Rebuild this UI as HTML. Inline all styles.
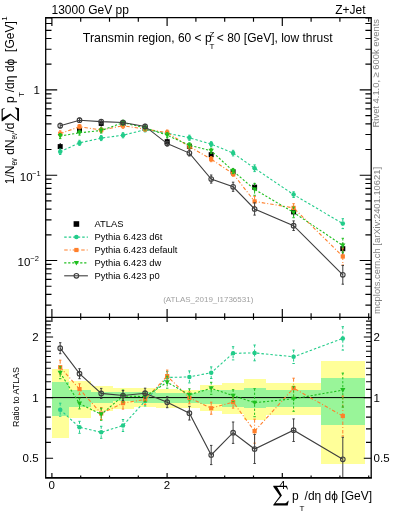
<!DOCTYPE html><html><head><meta charset="utf-8"><style>html,body{margin:0;padding:0;background:#fff;width:393px;height:512px;overflow:hidden}svg{display:block;will-change:transform}text{font-family:"Liberation Sans",sans-serif}</style></head><body><svg width="393" height="512" viewBox="0 0 393 512"><g shape-rendering="crispEdges"><rect x="51.5" y="369.2" width="17.5" height="69.1" fill="#ffff99"/><rect x="69.0" y="381.4" width="21.8" height="37.0" fill="#ffff99"/><rect x="90.8" y="385.9" width="21.7" height="25.4" fill="#ffff99"/><rect x="112.5" y="388.0" width="21.5" height="20.8" fill="#ffff99"/><rect x="134.0" y="387.7" width="22.0" height="19.7" fill="#ffff99"/><rect x="156.0" y="389.0" width="22.0" height="18.5" fill="#ffff99"/><rect x="178.0" y="389.5" width="22.2" height="18.0" fill="#ffff99"/><rect x="200.2" y="385.2" width="21.9" height="25.3" fill="#ffff99"/><rect x="222.1" y="383.2" width="21.8" height="31.1" fill="#ffff99"/><rect x="243.9" y="378.8" width="21.7" height="41.6" fill="#ffff99"/><rect x="265.6" y="383.1" width="55.4" height="31.5" fill="#ffff99"/><rect x="321.0" y="360.7" width="44.0" height="103.1" fill="#ffff99"/><rect x="51.5" y="382.3" width="17.5" height="33.2" fill="#99f599"/><rect x="69.0" y="389.6" width="21.8" height="17.6" fill="#99f599"/><rect x="90.8" y="391.6" width="21.7" height="11.1" fill="#99f599"/><rect x="112.5" y="392.4" width="21.5" height="8.7" fill="#99f599"/><rect x="134.0" y="391.7" width="22.0" height="11.6" fill="#99f599"/><rect x="156.0" y="393.0" width="22.0" height="10.2" fill="#99f599"/><rect x="178.0" y="393.0" width="22.2" height="10.2" fill="#99f599"/><rect x="200.2" y="389.6" width="21.9" height="14.6" fill="#99f599"/><rect x="222.1" y="389.6" width="21.8" height="17.6" fill="#99f599"/><rect x="243.9" y="388.0" width="21.7" height="20.2" fill="#99f599"/><rect x="265.6" y="389.6" width="55.4" height="17.4" fill="#99f599"/><rect x="321.0" y="377.5" width="44.0" height="47.1" fill="#99f599"/></g><line x1="45.7" y1="397.6" x2="371.2" y2="397.6" stroke="#000" stroke-width="1"/><defs><clipPath id="cm"><rect x="45.7" y="17.55" width="325.5" height="299.84999999999997"/></clipPath><clipPath id="cr"><rect x="45.7" y="317.4" width="325.5" height="160.40000000000003"/></clipPath></defs><line x1="60.2" y1="143.1" x2="60.2" y2="150.1" stroke="#000" stroke-width="1"/><rect x="57.7" y="144.1" width="5" height="5" fill="#000"/><line x1="79.5" y1="127.1" x2="79.5" y2="133.5" stroke="#000" stroke-width="1"/><rect x="77.0" y="127.8" width="5" height="5" fill="#000"/><line x1="101.2" y1="120.2" x2="101.2" y2="126.6" stroke="#000" stroke-width="1"/><rect x="98.7" y="120.9" width="5" height="5" fill="#000"/><line x1="123.0" y1="120.2" x2="123.0" y2="126.6" stroke="#000" stroke-width="1"/><rect x="120.5" y="120.9" width="5" height="5" fill="#000"/><line x1="145.1" y1="125.1" x2="145.1" y2="131.5" stroke="#000" stroke-width="1"/><rect x="142.6" y="125.8" width="5" height="5" fill="#000"/><line x1="167.2" y1="138.4" x2="167.2" y2="145.0" stroke="#000" stroke-width="1"/><rect x="164.7" y="139.2" width="5" height="5" fill="#000"/><line x1="189.4" y1="143.0" x2="189.4" y2="150.0" stroke="#000" stroke-width="1"/><rect x="186.9" y="144.0" width="5" height="5" fill="#000"/><line x1="211.2" y1="150.9" x2="211.2" y2="158.5" stroke="#000" stroke-width="1"/><rect x="208.7" y="152.2" width="5" height="5" fill="#000"/><line x1="233.1" y1="167.9" x2="233.1" y2="175.9" stroke="#000" stroke-width="1"/><rect x="230.6" y="169.4" width="5" height="5" fill="#000"/><line x1="254.6" y1="182.9" x2="254.6" y2="191.5" stroke="#000" stroke-width="1"/><rect x="252.1" y="184.7" width="5" height="5" fill="#000"/><line x1="293.6" y1="207.4" x2="293.6" y2="216.4" stroke="#000" stroke-width="1"/><rect x="291.1" y="209.4" width="5" height="5" fill="#000"/><line x1="342.8" y1="242.7" x2="342.8" y2="254.7" stroke="#000" stroke-width="1"/><rect x="340.3" y="246.2" width="5" height="5" fill="#000"/><g clip-path="url(#cr)"><polyline points="60.2,409.7 79.5,427.3 101.2,432.3 123.0,425.5 145.1,401.0 167.2,377.5 189.4,376.9 211.2,372.7 233.1,353.3 254.6,352.9 293.6,356.8 342.8,338.4" fill="none" stroke="#22cc8a" stroke-width="1.1" stroke-dasharray="2.5,2"/><line x1="60.2" y1="403.2" x2="60.2" y2="416.2" stroke="#22cc8a" stroke-width="1" stroke-dasharray="2.5,2"/><line x1="59.0" y1="403.2" x2="61.4" y2="403.2" stroke="#22cc8a" stroke-width="1"/><line x1="59.0" y1="416.2" x2="61.4" y2="416.2" stroke="#22cc8a" stroke-width="1"/><line x1="79.5" y1="421.3" x2="79.5" y2="433.3" stroke="#22cc8a" stroke-width="1" stroke-dasharray="2.5,2"/><line x1="78.3" y1="421.3" x2="80.7" y2="421.3" stroke="#22cc8a" stroke-width="1"/><line x1="78.3" y1="433.3" x2="80.7" y2="433.3" stroke="#22cc8a" stroke-width="1"/><line x1="101.2" y1="426.3" x2="101.2" y2="438.3" stroke="#22cc8a" stroke-width="1" stroke-dasharray="2.5,2"/><line x1="100.0" y1="426.3" x2="102.4" y2="426.3" stroke="#22cc8a" stroke-width="1"/><line x1="100.0" y1="438.3" x2="102.4" y2="438.3" stroke="#22cc8a" stroke-width="1"/><line x1="123.0" y1="419.5" x2="123.0" y2="431.5" stroke="#22cc8a" stroke-width="1" stroke-dasharray="2.5,2"/><line x1="121.8" y1="419.5" x2="124.2" y2="419.5" stroke="#22cc8a" stroke-width="1"/><line x1="121.8" y1="431.5" x2="124.2" y2="431.5" stroke="#22cc8a" stroke-width="1"/><line x1="145.1" y1="396.0" x2="145.1" y2="406.0" stroke="#22cc8a" stroke-width="1" stroke-dasharray="2.5,2"/><line x1="143.9" y1="396.0" x2="146.3" y2="396.0" stroke="#22cc8a" stroke-width="1"/><line x1="143.9" y1="406.0" x2="146.3" y2="406.0" stroke="#22cc8a" stroke-width="1"/><line x1="167.2" y1="371.5" x2="167.2" y2="383.5" stroke="#22cc8a" stroke-width="1" stroke-dasharray="2.5,2"/><line x1="166.0" y1="371.5" x2="168.4" y2="371.5" stroke="#22cc8a" stroke-width="1"/><line x1="166.0" y1="383.5" x2="168.4" y2="383.5" stroke="#22cc8a" stroke-width="1"/><line x1="189.4" y1="370.9" x2="189.4" y2="382.9" stroke="#22cc8a" stroke-width="1" stroke-dasharray="2.5,2"/><line x1="188.2" y1="370.9" x2="190.6" y2="370.9" stroke="#22cc8a" stroke-width="1"/><line x1="188.2" y1="382.9" x2="190.6" y2="382.9" stroke="#22cc8a" stroke-width="1"/><line x1="211.2" y1="366.9" x2="211.2" y2="378.5" stroke="#22cc8a" stroke-width="1" stroke-dasharray="2.5,2"/><line x1="210.0" y1="366.9" x2="212.4" y2="366.9" stroke="#22cc8a" stroke-width="1"/><line x1="210.0" y1="378.5" x2="212.4" y2="378.5" stroke="#22cc8a" stroke-width="1"/><line x1="233.1" y1="346.7" x2="233.1" y2="359.9" stroke="#22cc8a" stroke-width="1" stroke-dasharray="2.5,2"/><line x1="231.9" y1="346.7" x2="234.3" y2="346.7" stroke="#22cc8a" stroke-width="1"/><line x1="231.9" y1="359.9" x2="234.3" y2="359.9" stroke="#22cc8a" stroke-width="1"/><line x1="254.6" y1="345.0" x2="254.6" y2="360.8" stroke="#22cc8a" stroke-width="1" stroke-dasharray="2.5,2"/><line x1="253.4" y1="345.0" x2="255.8" y2="345.0" stroke="#22cc8a" stroke-width="1"/><line x1="253.4" y1="360.8" x2="255.8" y2="360.8" stroke="#22cc8a" stroke-width="1"/><line x1="293.6" y1="350.1" x2="293.6" y2="363.5" stroke="#22cc8a" stroke-width="1" stroke-dasharray="2.5,2"/><line x1="292.4" y1="350.1" x2="294.8" y2="350.1" stroke="#22cc8a" stroke-width="1"/><line x1="292.4" y1="363.5" x2="294.8" y2="363.5" stroke="#22cc8a" stroke-width="1"/><line x1="342.8" y1="326.7" x2="342.8" y2="350.1" stroke="#22cc8a" stroke-width="1" stroke-dasharray="2.5,2"/><line x1="341.6" y1="326.7" x2="344.0" y2="326.7" stroke="#22cc8a" stroke-width="1"/><line x1="341.6" y1="350.1" x2="344.0" y2="350.1" stroke="#22cc8a" stroke-width="1"/><circle cx="60.2" cy="409.7" r="2.25" fill="#22cc8a"/><circle cx="79.5" cy="427.3" r="2.25" fill="#22cc8a"/><circle cx="101.2" cy="432.3" r="2.25" fill="#22cc8a"/><circle cx="123.0" cy="425.5" r="2.25" fill="#22cc8a"/><circle cx="145.1" cy="401.0" r="2.25" fill="#22cc8a"/><circle cx="167.2" cy="377.5" r="2.25" fill="#22cc8a"/><circle cx="189.4" cy="376.9" r="2.25" fill="#22cc8a"/><circle cx="211.2" cy="372.7" r="2.25" fill="#22cc8a"/><circle cx="233.1" cy="353.3" r="2.25" fill="#22cc8a"/><circle cx="254.6" cy="352.9" r="2.25" fill="#22cc8a"/><circle cx="293.6" cy="356.8" r="2.25" fill="#22cc8a"/><circle cx="342.8" cy="338.4" r="2.25" fill="#22cc8a"/></g><g clip-path="url(#cr)"><polyline points="60.2,367.2 79.5,389.1 101.2,413.5 123.0,403.1 145.1,399.5 167.2,376.1 189.4,397.8 211.2,408.2 233.1,402.1 254.6,431.2 293.6,388.2 342.8,416.0" fill="none" stroke="#ff7f2a" stroke-width="1.1" stroke-dasharray="3.5,2,1,2"/><line x1="60.2" y1="360.2" x2="60.2" y2="374.2" stroke="#ff7f2a" stroke-width="1" stroke-dasharray="3.5,2,1,2"/><line x1="59.0" y1="360.2" x2="61.4" y2="360.2" stroke="#ff7f2a" stroke-width="1"/><line x1="59.0" y1="374.2" x2="61.4" y2="374.2" stroke="#ff7f2a" stroke-width="1"/><line x1="79.5" y1="383.8" x2="79.5" y2="394.4" stroke="#ff7f2a" stroke-width="1" stroke-dasharray="3.5,2,1,2"/><line x1="78.3" y1="383.8" x2="80.7" y2="383.8" stroke="#ff7f2a" stroke-width="1"/><line x1="78.3" y1="394.4" x2="80.7" y2="394.4" stroke="#ff7f2a" stroke-width="1"/><line x1="101.2" y1="407.5" x2="101.2" y2="419.5" stroke="#ff7f2a" stroke-width="1" stroke-dasharray="3.5,2,1,2"/><line x1="100.0" y1="407.5" x2="102.4" y2="407.5" stroke="#ff7f2a" stroke-width="1"/><line x1="100.0" y1="419.5" x2="102.4" y2="419.5" stroke="#ff7f2a" stroke-width="1"/><line x1="123.0" y1="397.1" x2="123.0" y2="409.1" stroke="#ff7f2a" stroke-width="1" stroke-dasharray="3.5,2,1,2"/><line x1="121.8" y1="397.1" x2="124.2" y2="397.1" stroke="#ff7f2a" stroke-width="1"/><line x1="121.8" y1="409.1" x2="124.2" y2="409.1" stroke="#ff7f2a" stroke-width="1"/><line x1="145.1" y1="394.5" x2="145.1" y2="404.5" stroke="#ff7f2a" stroke-width="1" stroke-dasharray="3.5,2,1,2"/><line x1="143.9" y1="394.5" x2="146.3" y2="394.5" stroke="#ff7f2a" stroke-width="1"/><line x1="143.9" y1="404.5" x2="146.3" y2="404.5" stroke="#ff7f2a" stroke-width="1"/><line x1="167.2" y1="370.1" x2="167.2" y2="382.1" stroke="#ff7f2a" stroke-width="1" stroke-dasharray="3.5,2,1,2"/><line x1="166.0" y1="370.1" x2="168.4" y2="370.1" stroke="#ff7f2a" stroke-width="1"/><line x1="166.0" y1="382.1" x2="168.4" y2="382.1" stroke="#ff7f2a" stroke-width="1"/><line x1="189.4" y1="391.8" x2="189.4" y2="403.8" stroke="#ff7f2a" stroke-width="1" stroke-dasharray="3.5,2,1,2"/><line x1="188.2" y1="391.8" x2="190.6" y2="391.8" stroke="#ff7f2a" stroke-width="1"/><line x1="188.2" y1="403.8" x2="190.6" y2="403.8" stroke="#ff7f2a" stroke-width="1"/><line x1="211.2" y1="402.2" x2="211.2" y2="414.2" stroke="#ff7f2a" stroke-width="1" stroke-dasharray="3.5,2,1,2"/><line x1="210.0" y1="402.2" x2="212.4" y2="402.2" stroke="#ff7f2a" stroke-width="1"/><line x1="210.0" y1="414.2" x2="212.4" y2="414.2" stroke="#ff7f2a" stroke-width="1"/><line x1="233.1" y1="396.1" x2="233.1" y2="408.1" stroke="#ff7f2a" stroke-width="1" stroke-dasharray="3.5,2,1,2"/><line x1="231.9" y1="396.1" x2="234.3" y2="396.1" stroke="#ff7f2a" stroke-width="1"/><line x1="231.9" y1="408.1" x2="234.3" y2="408.1" stroke="#ff7f2a" stroke-width="1"/><line x1="254.6" y1="419.2" x2="254.6" y2="443.2" stroke="#ff7f2a" stroke-width="1" stroke-dasharray="3.5,2,1,2"/><line x1="253.4" y1="419.2" x2="255.8" y2="419.2" stroke="#ff7f2a" stroke-width="1"/><line x1="253.4" y1="443.2" x2="255.8" y2="443.2" stroke="#ff7f2a" stroke-width="1"/><line x1="293.6" y1="378.2" x2="293.6" y2="398.2" stroke="#ff7f2a" stroke-width="1" stroke-dasharray="3.5,2,1,2"/><line x1="292.4" y1="378.2" x2="294.8" y2="378.2" stroke="#ff7f2a" stroke-width="1"/><line x1="292.4" y1="398.2" x2="294.8" y2="398.2" stroke="#ff7f2a" stroke-width="1"/><line x1="342.8" y1="396.0" x2="342.8" y2="436.0" stroke="#ff7f2a" stroke-width="1" stroke-dasharray="3.5,2,1,2"/><line x1="341.6" y1="396.0" x2="344.0" y2="396.0" stroke="#ff7f2a" stroke-width="1"/><line x1="341.6" y1="436.0" x2="344.0" y2="436.0" stroke="#ff7f2a" stroke-width="1"/><rect x="58.1" y="365.1" width="4.2" height="4.2" fill="#ff7f2a"/><rect x="77.4" y="387.0" width="4.2" height="4.2" fill="#ff7f2a"/><rect x="99.1" y="411.4" width="4.2" height="4.2" fill="#ff7f2a"/><rect x="120.9" y="401.0" width="4.2" height="4.2" fill="#ff7f2a"/><rect x="143.0" y="397.4" width="4.2" height="4.2" fill="#ff7f2a"/><rect x="165.1" y="374.0" width="4.2" height="4.2" fill="#ff7f2a"/><rect x="187.3" y="395.7" width="4.2" height="4.2" fill="#ff7f2a"/><rect x="209.1" y="406.1" width="4.2" height="4.2" fill="#ff7f2a"/><rect x="231.0" y="400.0" width="4.2" height="4.2" fill="#ff7f2a"/><rect x="252.5" y="429.1" width="4.2" height="4.2" fill="#ff7f2a"/><rect x="291.5" y="386.1" width="4.2" height="4.2" fill="#ff7f2a"/><rect x="340.7" y="413.9" width="4.2" height="4.2" fill="#ff7f2a"/></g><g clip-path="url(#cr)"><polyline points="60.2,372.7 79.5,403.6 101.2,414.3 123.0,396.0 145.1,396.6 167.2,382.2 189.4,394.8 211.2,388.3 233.1,395.7 254.6,402.7 293.6,398.8 342.8,390.1" fill="none" stroke="#1fbf1f" stroke-width="1.1" stroke-dasharray="2.2,1.8"/><line x1="60.2" y1="366.7" x2="60.2" y2="378.7" stroke="#1fbf1f" stroke-width="1" stroke-dasharray="2.2,1.8"/><line x1="59.0" y1="366.7" x2="61.4" y2="366.7" stroke="#1fbf1f" stroke-width="1"/><line x1="59.0" y1="378.7" x2="61.4" y2="378.7" stroke="#1fbf1f" stroke-width="1"/><line x1="79.5" y1="398.3" x2="79.5" y2="408.9" stroke="#1fbf1f" stroke-width="1" stroke-dasharray="2.2,1.8"/><line x1="78.3" y1="398.3" x2="80.7" y2="398.3" stroke="#1fbf1f" stroke-width="1"/><line x1="78.3" y1="408.9" x2="80.7" y2="408.9" stroke="#1fbf1f" stroke-width="1"/><line x1="101.2" y1="408.3" x2="101.2" y2="420.3" stroke="#1fbf1f" stroke-width="1" stroke-dasharray="2.2,1.8"/><line x1="100.0" y1="408.3" x2="102.4" y2="408.3" stroke="#1fbf1f" stroke-width="1"/><line x1="100.0" y1="420.3" x2="102.4" y2="420.3" stroke="#1fbf1f" stroke-width="1"/><line x1="123.0" y1="390.0" x2="123.0" y2="402.0" stroke="#1fbf1f" stroke-width="1" stroke-dasharray="2.2,1.8"/><line x1="121.8" y1="390.0" x2="124.2" y2="390.0" stroke="#1fbf1f" stroke-width="1"/><line x1="121.8" y1="402.0" x2="124.2" y2="402.0" stroke="#1fbf1f" stroke-width="1"/><line x1="145.1" y1="391.6" x2="145.1" y2="401.6" stroke="#1fbf1f" stroke-width="1" stroke-dasharray="2.2,1.8"/><line x1="143.9" y1="391.6" x2="146.3" y2="391.6" stroke="#1fbf1f" stroke-width="1"/><line x1="143.9" y1="401.6" x2="146.3" y2="401.6" stroke="#1fbf1f" stroke-width="1"/><line x1="167.2" y1="376.2" x2="167.2" y2="388.2" stroke="#1fbf1f" stroke-width="1" stroke-dasharray="2.2,1.8"/><line x1="166.0" y1="376.2" x2="168.4" y2="376.2" stroke="#1fbf1f" stroke-width="1"/><line x1="166.0" y1="388.2" x2="168.4" y2="388.2" stroke="#1fbf1f" stroke-width="1"/><line x1="189.4" y1="388.8" x2="189.4" y2="400.8" stroke="#1fbf1f" stroke-width="1" stroke-dasharray="2.2,1.8"/><line x1="188.2" y1="388.8" x2="190.6" y2="388.8" stroke="#1fbf1f" stroke-width="1"/><line x1="188.2" y1="400.8" x2="190.6" y2="400.8" stroke="#1fbf1f" stroke-width="1"/><line x1="211.2" y1="382.3" x2="211.2" y2="394.3" stroke="#1fbf1f" stroke-width="1" stroke-dasharray="2.2,1.8"/><line x1="210.0" y1="382.3" x2="212.4" y2="382.3" stroke="#1fbf1f" stroke-width="1"/><line x1="210.0" y1="394.3" x2="212.4" y2="394.3" stroke="#1fbf1f" stroke-width="1"/><line x1="233.1" y1="389.7" x2="233.1" y2="401.7" stroke="#1fbf1f" stroke-width="1" stroke-dasharray="2.2,1.8"/><line x1="231.9" y1="389.7" x2="234.3" y2="389.7" stroke="#1fbf1f" stroke-width="1"/><line x1="231.9" y1="401.7" x2="234.3" y2="401.7" stroke="#1fbf1f" stroke-width="1"/><line x1="254.6" y1="388.7" x2="254.6" y2="416.7" stroke="#1fbf1f" stroke-width="1" stroke-dasharray="2.2,1.8"/><line x1="253.4" y1="388.7" x2="255.8" y2="388.7" stroke="#1fbf1f" stroke-width="1"/><line x1="253.4" y1="416.7" x2="255.8" y2="416.7" stroke="#1fbf1f" stroke-width="1"/><line x1="293.6" y1="386.3" x2="293.6" y2="411.3" stroke="#1fbf1f" stroke-width="1" stroke-dasharray="2.2,1.8"/><line x1="292.4" y1="386.3" x2="294.8" y2="386.3" stroke="#1fbf1f" stroke-width="1"/><line x1="292.4" y1="411.3" x2="294.8" y2="411.3" stroke="#1fbf1f" stroke-width="1"/><line x1="342.8" y1="373.1" x2="342.8" y2="407.1" stroke="#1fbf1f" stroke-width="1" stroke-dasharray="2.2,1.8"/><line x1="341.6" y1="373.1" x2="344.0" y2="373.1" stroke="#1fbf1f" stroke-width="1"/><line x1="341.6" y1="407.1" x2="344.0" y2="407.1" stroke="#1fbf1f" stroke-width="1"/><path d="M57.6,370.7L62.8,370.7L60.2,375.3Z" fill="#1fbf1f"/><path d="M76.9,401.6L82.1,401.6L79.5,406.2Z" fill="#1fbf1f"/><path d="M98.6,412.3L103.8,412.3L101.2,416.9Z" fill="#1fbf1f"/><path d="M120.4,394.0L125.6,394.0L123.0,398.6Z" fill="#1fbf1f"/><path d="M142.5,394.6L147.7,394.6L145.1,399.2Z" fill="#1fbf1f"/><path d="M164.6,380.2L169.8,380.2L167.2,384.8Z" fill="#1fbf1f"/><path d="M186.8,392.8L192.0,392.8L189.4,397.4Z" fill="#1fbf1f"/><path d="M208.6,386.3L213.8,386.3L211.2,390.9Z" fill="#1fbf1f"/><path d="M230.5,393.7L235.7,393.7L233.1,398.3Z" fill="#1fbf1f"/><path d="M252.0,400.7L257.2,400.7L254.6,405.3Z" fill="#1fbf1f"/><path d="M291.0,396.8L296.2,396.8L293.6,401.4Z" fill="#1fbf1f"/><path d="M340.2,388.1L345.4,388.1L342.8,392.7Z" fill="#1fbf1f"/></g><g clip-path="url(#cr)"><polyline points="60.2,348.2 79.5,373.7 101.2,393.4 123.0,395.5 145.1,393.2 167.2,402.2 189.4,413.2 211.2,455.0 233.1,432.7 254.6,449.0 293.6,430.2 342.8,459.3" fill="none" stroke="#3f3f3f" stroke-width="1.1"/><line x1="60.2" y1="342.7" x2="60.2" y2="353.7" stroke="#3f3f3f" stroke-width="1"/><line x1="59.0" y1="342.7" x2="61.4" y2="342.7" stroke="#3f3f3f" stroke-width="1"/><line x1="59.0" y1="353.7" x2="61.4" y2="353.7" stroke="#3f3f3f" stroke-width="1"/><line x1="79.5" y1="368.7" x2="79.5" y2="378.7" stroke="#3f3f3f" stroke-width="1"/><line x1="78.3" y1="368.7" x2="80.7" y2="368.7" stroke="#3f3f3f" stroke-width="1"/><line x1="78.3" y1="378.7" x2="80.7" y2="378.7" stroke="#3f3f3f" stroke-width="1"/><line x1="101.2" y1="388.4" x2="101.2" y2="398.4" stroke="#3f3f3f" stroke-width="1"/><line x1="100.0" y1="388.4" x2="102.4" y2="388.4" stroke="#3f3f3f" stroke-width="1"/><line x1="100.0" y1="398.4" x2="102.4" y2="398.4" stroke="#3f3f3f" stroke-width="1"/><line x1="123.0" y1="390.5" x2="123.0" y2="400.5" stroke="#3f3f3f" stroke-width="1"/><line x1="121.8" y1="390.5" x2="124.2" y2="390.5" stroke="#3f3f3f" stroke-width="1"/><line x1="121.8" y1="400.5" x2="124.2" y2="400.5" stroke="#3f3f3f" stroke-width="1"/><line x1="145.1" y1="388.2" x2="145.1" y2="398.2" stroke="#3f3f3f" stroke-width="1"/><line x1="143.9" y1="388.2" x2="146.3" y2="388.2" stroke="#3f3f3f" stroke-width="1"/><line x1="143.9" y1="398.2" x2="146.3" y2="398.2" stroke="#3f3f3f" stroke-width="1"/><line x1="167.2" y1="396.7" x2="167.2" y2="407.7" stroke="#3f3f3f" stroke-width="1"/><line x1="166.0" y1="396.7" x2="168.4" y2="396.7" stroke="#3f3f3f" stroke-width="1"/><line x1="166.0" y1="407.7" x2="168.4" y2="407.7" stroke="#3f3f3f" stroke-width="1"/><line x1="189.4" y1="406.4" x2="189.4" y2="420.0" stroke="#3f3f3f" stroke-width="1"/><line x1="188.2" y1="406.4" x2="190.6" y2="406.4" stroke="#3f3f3f" stroke-width="1"/><line x1="188.2" y1="420.0" x2="190.6" y2="420.0" stroke="#3f3f3f" stroke-width="1"/><line x1="211.2" y1="445.4" x2="211.2" y2="464.6" stroke="#3f3f3f" stroke-width="1"/><line x1="210.0" y1="445.4" x2="212.4" y2="445.4" stroke="#3f3f3f" stroke-width="1"/><line x1="210.0" y1="464.6" x2="212.4" y2="464.6" stroke="#3f3f3f" stroke-width="1"/><line x1="233.1" y1="422.0" x2="233.1" y2="443.4" stroke="#3f3f3f" stroke-width="1"/><line x1="231.9" y1="422.0" x2="234.3" y2="422.0" stroke="#3f3f3f" stroke-width="1"/><line x1="231.9" y1="443.4" x2="234.3" y2="443.4" stroke="#3f3f3f" stroke-width="1"/><line x1="254.6" y1="434.5" x2="254.6" y2="463.5" stroke="#3f3f3f" stroke-width="1"/><line x1="253.4" y1="434.5" x2="255.8" y2="434.5" stroke="#3f3f3f" stroke-width="1"/><line x1="253.4" y1="463.5" x2="255.8" y2="463.5" stroke="#3f3f3f" stroke-width="1"/><line x1="293.6" y1="418.9" x2="293.6" y2="441.5" stroke="#3f3f3f" stroke-width="1"/><line x1="292.4" y1="418.9" x2="294.8" y2="418.9" stroke="#3f3f3f" stroke-width="1"/><line x1="292.4" y1="441.5" x2="294.8" y2="441.5" stroke="#3f3f3f" stroke-width="1"/><line x1="342.8" y1="437.3" x2="342.8" y2="481.3" stroke="#3f3f3f" stroke-width="1"/><line x1="341.6" y1="437.3" x2="344.0" y2="437.3" stroke="#3f3f3f" stroke-width="1"/><line x1="341.6" y1="481.3" x2="344.0" y2="481.3" stroke="#3f3f3f" stroke-width="1"/><circle cx="60.2" cy="348.2" r="2.3" fill="none" stroke="#3f3f3f" stroke-width="1.1"/><circle cx="79.5" cy="373.7" r="2.3" fill="none" stroke="#3f3f3f" stroke-width="1.1"/><circle cx="101.2" cy="393.4" r="2.3" fill="none" stroke="#3f3f3f" stroke-width="1.1"/><circle cx="123.0" cy="395.5" r="2.3" fill="none" stroke="#3f3f3f" stroke-width="1.1"/><circle cx="145.1" cy="393.2" r="2.3" fill="none" stroke="#3f3f3f" stroke-width="1.1"/><circle cx="167.2" cy="402.2" r="2.3" fill="none" stroke="#3f3f3f" stroke-width="1.1"/><circle cx="189.4" cy="413.2" r="2.3" fill="none" stroke="#3f3f3f" stroke-width="1.1"/><circle cx="211.2" cy="455.0" r="2.3" fill="none" stroke="#3f3f3f" stroke-width="1.1"/><circle cx="233.1" cy="432.7" r="2.3" fill="none" stroke="#3f3f3f" stroke-width="1.1"/><circle cx="254.6" cy="449.0" r="2.3" fill="none" stroke="#3f3f3f" stroke-width="1.1"/><circle cx="293.6" cy="430.2" r="2.3" fill="none" stroke="#3f3f3f" stroke-width="1.1"/><circle cx="342.8" cy="459.3" r="2.3" fill="none" stroke="#3f3f3f" stroke-width="1.1"/></g><g clip-path="url(#cm)"><polyline points="60.2,151.7 79.5,142.9 101.2,138.1 123.0,135.2 145.1,129.7 167.2,133.2 189.4,137.7 211.2,144.1 233.1,153.1 254.6,168.3 293.6,194.6 342.8,223.6" fill="none" stroke="#22cc8a" stroke-width="1.1" stroke-dasharray="2.5,2"/><line x1="60.2" y1="149.0" x2="60.2" y2="154.5" stroke="#22cc8a" stroke-width="1" stroke-dasharray="2.5,2"/><line x1="59.0" y1="149.0" x2="61.4" y2="149.0" stroke="#22cc8a" stroke-width="1"/><line x1="59.0" y1="154.5" x2="61.4" y2="154.5" stroke="#22cc8a" stroke-width="1"/><line x1="79.5" y1="140.3" x2="79.5" y2="145.4" stroke="#22cc8a" stroke-width="1" stroke-dasharray="2.5,2"/><line x1="78.3" y1="140.3" x2="80.7" y2="140.3" stroke="#22cc8a" stroke-width="1"/><line x1="78.3" y1="145.4" x2="80.7" y2="145.4" stroke="#22cc8a" stroke-width="1"/><line x1="101.2" y1="135.6" x2="101.2" y2="140.6" stroke="#22cc8a" stroke-width="1" stroke-dasharray="2.5,2"/><line x1="100.0" y1="135.6" x2="102.4" y2="135.6" stroke="#22cc8a" stroke-width="1"/><line x1="100.0" y1="140.6" x2="102.4" y2="140.6" stroke="#22cc8a" stroke-width="1"/><line x1="123.0" y1="132.7" x2="123.0" y2="137.8" stroke="#22cc8a" stroke-width="1" stroke-dasharray="2.5,2"/><line x1="121.8" y1="132.7" x2="124.2" y2="132.7" stroke="#22cc8a" stroke-width="1"/><line x1="121.8" y1="137.8" x2="124.2" y2="137.8" stroke="#22cc8a" stroke-width="1"/><line x1="145.1" y1="127.6" x2="145.1" y2="131.9" stroke="#22cc8a" stroke-width="1" stroke-dasharray="2.5,2"/><line x1="143.9" y1="127.6" x2="146.3" y2="127.6" stroke="#22cc8a" stroke-width="1"/><line x1="143.9" y1="131.9" x2="146.3" y2="131.9" stroke="#22cc8a" stroke-width="1"/><line x1="167.2" y1="130.6" x2="167.2" y2="135.7" stroke="#22cc8a" stroke-width="1" stroke-dasharray="2.5,2"/><line x1="166.0" y1="130.6" x2="168.4" y2="130.6" stroke="#22cc8a" stroke-width="1"/><line x1="166.0" y1="135.7" x2="168.4" y2="135.7" stroke="#22cc8a" stroke-width="1"/><line x1="189.4" y1="135.2" x2="189.4" y2="140.3" stroke="#22cc8a" stroke-width="1" stroke-dasharray="2.5,2"/><line x1="188.2" y1="135.2" x2="190.6" y2="135.2" stroke="#22cc8a" stroke-width="1"/><line x1="188.2" y1="140.3" x2="190.6" y2="140.3" stroke="#22cc8a" stroke-width="1"/><line x1="211.2" y1="141.7" x2="211.2" y2="146.6" stroke="#22cc8a" stroke-width="1" stroke-dasharray="2.5,2"/><line x1="210.0" y1="141.7" x2="212.4" y2="141.7" stroke="#22cc8a" stroke-width="1"/><line x1="210.0" y1="146.6" x2="212.4" y2="146.6" stroke="#22cc8a" stroke-width="1"/><line x1="233.1" y1="150.3" x2="233.1" y2="155.9" stroke="#22cc8a" stroke-width="1" stroke-dasharray="2.5,2"/><line x1="231.9" y1="150.3" x2="234.3" y2="150.3" stroke="#22cc8a" stroke-width="1"/><line x1="231.9" y1="155.9" x2="234.3" y2="155.9" stroke="#22cc8a" stroke-width="1"/><line x1="254.6" y1="164.9" x2="254.6" y2="171.6" stroke="#22cc8a" stroke-width="1" stroke-dasharray="2.5,2"/><line x1="253.4" y1="164.9" x2="255.8" y2="164.9" stroke="#22cc8a" stroke-width="1"/><line x1="253.4" y1="171.6" x2="255.8" y2="171.6" stroke="#22cc8a" stroke-width="1"/><line x1="293.6" y1="191.8" x2="293.6" y2="197.5" stroke="#22cc8a" stroke-width="1" stroke-dasharray="2.5,2"/><line x1="292.4" y1="191.8" x2="294.8" y2="191.8" stroke="#22cc8a" stroke-width="1"/><line x1="292.4" y1="197.5" x2="294.8" y2="197.5" stroke="#22cc8a" stroke-width="1"/><line x1="342.8" y1="218.7" x2="342.8" y2="228.6" stroke="#22cc8a" stroke-width="1" stroke-dasharray="2.5,2"/><line x1="341.6" y1="218.7" x2="344.0" y2="218.7" stroke="#22cc8a" stroke-width="1"/><line x1="341.6" y1="228.6" x2="344.0" y2="228.6" stroke="#22cc8a" stroke-width="1"/><circle cx="60.2" cy="151.7" r="2.25" fill="#22cc8a"/><circle cx="79.5" cy="142.9" r="2.25" fill="#22cc8a"/><circle cx="101.2" cy="138.1" r="2.25" fill="#22cc8a"/><circle cx="123.0" cy="135.2" r="2.25" fill="#22cc8a"/><circle cx="145.1" cy="129.7" r="2.25" fill="#22cc8a"/><circle cx="167.2" cy="133.2" r="2.25" fill="#22cc8a"/><circle cx="189.4" cy="137.7" r="2.25" fill="#22cc8a"/><circle cx="211.2" cy="144.1" r="2.25" fill="#22cc8a"/><circle cx="233.1" cy="153.1" r="2.25" fill="#22cc8a"/><circle cx="254.6" cy="168.3" r="2.25" fill="#22cc8a"/><circle cx="293.6" cy="194.6" r="2.25" fill="#22cc8a"/><circle cx="342.8" cy="223.6" r="2.25" fill="#22cc8a"/></g><g clip-path="url(#cm)"><polyline points="60.2,133.7 79.5,126.7 101.2,130.1 123.0,125.7 145.1,129.1 167.2,132.6 189.4,146.6 211.2,159.2 233.1,173.8 254.6,201.4 293.6,207.9 342.8,256.5" fill="none" stroke="#ff7f2a" stroke-width="1.1" stroke-dasharray="3.5,2,1,2"/><line x1="60.2" y1="130.8" x2="60.2" y2="136.7" stroke="#ff7f2a" stroke-width="1" stroke-dasharray="3.5,2,1,2"/><line x1="59.0" y1="130.8" x2="61.4" y2="130.8" stroke="#ff7f2a" stroke-width="1"/><line x1="59.0" y1="136.7" x2="61.4" y2="136.7" stroke="#ff7f2a" stroke-width="1"/><line x1="79.5" y1="124.5" x2="79.5" y2="128.9" stroke="#ff7f2a" stroke-width="1" stroke-dasharray="3.5,2,1,2"/><line x1="78.3" y1="124.5" x2="80.7" y2="124.5" stroke="#ff7f2a" stroke-width="1"/><line x1="78.3" y1="128.9" x2="80.7" y2="128.9" stroke="#ff7f2a" stroke-width="1"/><line x1="101.2" y1="127.6" x2="101.2" y2="132.7" stroke="#ff7f2a" stroke-width="1" stroke-dasharray="3.5,2,1,2"/><line x1="100.0" y1="127.6" x2="102.4" y2="127.6" stroke="#ff7f2a" stroke-width="1"/><line x1="100.0" y1="132.7" x2="102.4" y2="132.7" stroke="#ff7f2a" stroke-width="1"/><line x1="123.0" y1="123.2" x2="123.0" y2="128.3" stroke="#ff7f2a" stroke-width="1" stroke-dasharray="3.5,2,1,2"/><line x1="121.8" y1="123.2" x2="124.2" y2="123.2" stroke="#ff7f2a" stroke-width="1"/><line x1="121.8" y1="128.3" x2="124.2" y2="128.3" stroke="#ff7f2a" stroke-width="1"/><line x1="145.1" y1="127.0" x2="145.1" y2="131.2" stroke="#ff7f2a" stroke-width="1" stroke-dasharray="3.5,2,1,2"/><line x1="143.9" y1="127.0" x2="146.3" y2="127.0" stroke="#ff7f2a" stroke-width="1"/><line x1="143.9" y1="131.2" x2="146.3" y2="131.2" stroke="#ff7f2a" stroke-width="1"/><line x1="167.2" y1="130.0" x2="167.2" y2="135.1" stroke="#ff7f2a" stroke-width="1" stroke-dasharray="3.5,2,1,2"/><line x1="166.0" y1="130.0" x2="168.4" y2="130.0" stroke="#ff7f2a" stroke-width="1"/><line x1="166.0" y1="135.1" x2="168.4" y2="135.1" stroke="#ff7f2a" stroke-width="1"/><line x1="189.4" y1="144.0" x2="189.4" y2="149.1" stroke="#ff7f2a" stroke-width="1" stroke-dasharray="3.5,2,1,2"/><line x1="188.2" y1="144.0" x2="190.6" y2="144.0" stroke="#ff7f2a" stroke-width="1"/><line x1="188.2" y1="149.1" x2="190.6" y2="149.1" stroke="#ff7f2a" stroke-width="1"/><line x1="211.2" y1="156.6" x2="211.2" y2="161.7" stroke="#ff7f2a" stroke-width="1" stroke-dasharray="3.5,2,1,2"/><line x1="210.0" y1="156.6" x2="212.4" y2="156.6" stroke="#ff7f2a" stroke-width="1"/><line x1="210.0" y1="161.7" x2="212.4" y2="161.7" stroke="#ff7f2a" stroke-width="1"/><line x1="233.1" y1="171.3" x2="233.1" y2="176.3" stroke="#ff7f2a" stroke-width="1" stroke-dasharray="3.5,2,1,2"/><line x1="231.9" y1="171.3" x2="234.3" y2="171.3" stroke="#ff7f2a" stroke-width="1"/><line x1="231.9" y1="176.3" x2="234.3" y2="176.3" stroke="#ff7f2a" stroke-width="1"/><line x1="254.6" y1="196.4" x2="254.6" y2="206.5" stroke="#ff7f2a" stroke-width="1" stroke-dasharray="3.5,2,1,2"/><line x1="253.4" y1="196.4" x2="255.8" y2="196.4" stroke="#ff7f2a" stroke-width="1"/><line x1="253.4" y1="206.5" x2="255.8" y2="206.5" stroke="#ff7f2a" stroke-width="1"/><line x1="293.6" y1="203.7" x2="293.6" y2="212.2" stroke="#ff7f2a" stroke-width="1" stroke-dasharray="3.5,2,1,2"/><line x1="292.4" y1="203.7" x2="294.8" y2="203.7" stroke="#ff7f2a" stroke-width="1"/><line x1="292.4" y1="212.2" x2="294.8" y2="212.2" stroke="#ff7f2a" stroke-width="1"/><line x1="342.8" y1="248.0" x2="342.8" y2="265.0" stroke="#ff7f2a" stroke-width="1" stroke-dasharray="3.5,2,1,2"/><line x1="341.6" y1="248.0" x2="344.0" y2="248.0" stroke="#ff7f2a" stroke-width="1"/><line x1="341.6" y1="265.0" x2="344.0" y2="265.0" stroke="#ff7f2a" stroke-width="1"/><rect x="58.1" y="131.6" width="4.2" height="4.2" fill="#ff7f2a"/><rect x="77.4" y="124.6" width="4.2" height="4.2" fill="#ff7f2a"/><rect x="99.1" y="128.0" width="4.2" height="4.2" fill="#ff7f2a"/><rect x="120.9" y="123.6" width="4.2" height="4.2" fill="#ff7f2a"/><rect x="143.0" y="127.0" width="4.2" height="4.2" fill="#ff7f2a"/><rect x="165.1" y="130.5" width="4.2" height="4.2" fill="#ff7f2a"/><rect x="187.3" y="144.5" width="4.2" height="4.2" fill="#ff7f2a"/><rect x="209.1" y="157.1" width="4.2" height="4.2" fill="#ff7f2a"/><rect x="231.0" y="171.7" width="4.2" height="4.2" fill="#ff7f2a"/><rect x="252.5" y="199.3" width="4.2" height="4.2" fill="#ff7f2a"/><rect x="291.5" y="205.8" width="4.2" height="4.2" fill="#ff7f2a"/><rect x="340.7" y="254.4" width="4.2" height="4.2" fill="#ff7f2a"/></g><g clip-path="url(#cm)"><polyline points="60.2,136.0 79.5,132.8 101.2,130.5 123.0,122.7 145.1,127.9 167.2,135.2 189.4,145.3 211.2,150.8 233.1,171.1 254.6,189.4 293.6,212.4 342.8,245.5" fill="none" stroke="#1fbf1f" stroke-width="1.1" stroke-dasharray="2.2,1.8"/><line x1="60.2" y1="133.5" x2="60.2" y2="138.6" stroke="#1fbf1f" stroke-width="1" stroke-dasharray="2.2,1.8"/><line x1="59.0" y1="133.5" x2="61.4" y2="133.5" stroke="#1fbf1f" stroke-width="1"/><line x1="59.0" y1="138.6" x2="61.4" y2="138.6" stroke="#1fbf1f" stroke-width="1"/><line x1="79.5" y1="130.6" x2="79.5" y2="135.1" stroke="#1fbf1f" stroke-width="1" stroke-dasharray="2.2,1.8"/><line x1="78.3" y1="130.6" x2="80.7" y2="130.6" stroke="#1fbf1f" stroke-width="1"/><line x1="78.3" y1="135.1" x2="80.7" y2="135.1" stroke="#1fbf1f" stroke-width="1"/><line x1="101.2" y1="127.9" x2="101.2" y2="133.0" stroke="#1fbf1f" stroke-width="1" stroke-dasharray="2.2,1.8"/><line x1="100.0" y1="127.9" x2="102.4" y2="127.9" stroke="#1fbf1f" stroke-width="1"/><line x1="100.0" y1="133.0" x2="102.4" y2="133.0" stroke="#1fbf1f" stroke-width="1"/><line x1="123.0" y1="120.2" x2="123.0" y2="125.3" stroke="#1fbf1f" stroke-width="1" stroke-dasharray="2.2,1.8"/><line x1="121.8" y1="120.2" x2="124.2" y2="120.2" stroke="#1fbf1f" stroke-width="1"/><line x1="121.8" y1="125.3" x2="124.2" y2="125.3" stroke="#1fbf1f" stroke-width="1"/><line x1="145.1" y1="125.8" x2="145.1" y2="130.0" stroke="#1fbf1f" stroke-width="1" stroke-dasharray="2.2,1.8"/><line x1="143.9" y1="125.8" x2="146.3" y2="125.8" stroke="#1fbf1f" stroke-width="1"/><line x1="143.9" y1="130.0" x2="146.3" y2="130.0" stroke="#1fbf1f" stroke-width="1"/><line x1="167.2" y1="132.6" x2="167.2" y2="137.7" stroke="#1fbf1f" stroke-width="1" stroke-dasharray="2.2,1.8"/><line x1="166.0" y1="132.6" x2="168.4" y2="132.6" stroke="#1fbf1f" stroke-width="1"/><line x1="166.0" y1="137.7" x2="168.4" y2="137.7" stroke="#1fbf1f" stroke-width="1"/><line x1="189.4" y1="142.8" x2="189.4" y2="147.9" stroke="#1fbf1f" stroke-width="1" stroke-dasharray="2.2,1.8"/><line x1="188.2" y1="142.8" x2="190.6" y2="142.8" stroke="#1fbf1f" stroke-width="1"/><line x1="188.2" y1="147.9" x2="190.6" y2="147.9" stroke="#1fbf1f" stroke-width="1"/><line x1="211.2" y1="148.2" x2="211.2" y2="153.3" stroke="#1fbf1f" stroke-width="1" stroke-dasharray="2.2,1.8"/><line x1="210.0" y1="148.2" x2="212.4" y2="148.2" stroke="#1fbf1f" stroke-width="1"/><line x1="210.0" y1="153.3" x2="212.4" y2="153.3" stroke="#1fbf1f" stroke-width="1"/><line x1="233.1" y1="168.6" x2="233.1" y2="173.6" stroke="#1fbf1f" stroke-width="1" stroke-dasharray="2.2,1.8"/><line x1="231.9" y1="168.6" x2="234.3" y2="168.6" stroke="#1fbf1f" stroke-width="1"/><line x1="231.9" y1="173.6" x2="234.3" y2="173.6" stroke="#1fbf1f" stroke-width="1"/><line x1="254.6" y1="183.4" x2="254.6" y2="195.3" stroke="#1fbf1f" stroke-width="1" stroke-dasharray="2.2,1.8"/><line x1="253.4" y1="183.4" x2="255.8" y2="183.4" stroke="#1fbf1f" stroke-width="1"/><line x1="253.4" y1="195.3" x2="255.8" y2="195.3" stroke="#1fbf1f" stroke-width="1"/><line x1="293.6" y1="207.1" x2="293.6" y2="217.7" stroke="#1fbf1f" stroke-width="1" stroke-dasharray="2.2,1.8"/><line x1="292.4" y1="207.1" x2="294.8" y2="207.1" stroke="#1fbf1f" stroke-width="1"/><line x1="292.4" y1="217.7" x2="294.8" y2="217.7" stroke="#1fbf1f" stroke-width="1"/><line x1="342.8" y1="238.3" x2="342.8" y2="252.7" stroke="#1fbf1f" stroke-width="1" stroke-dasharray="2.2,1.8"/><line x1="341.6" y1="238.3" x2="344.0" y2="238.3" stroke="#1fbf1f" stroke-width="1"/><line x1="341.6" y1="252.7" x2="344.0" y2="252.7" stroke="#1fbf1f" stroke-width="1"/><path d="M57.6,134.0L62.8,134.0L60.2,138.6Z" fill="#1fbf1f"/><path d="M76.9,130.8L82.1,130.8L79.5,135.4Z" fill="#1fbf1f"/><path d="M98.6,128.5L103.8,128.5L101.2,133.1Z" fill="#1fbf1f"/><path d="M120.4,120.7L125.6,120.7L123.0,125.3Z" fill="#1fbf1f"/><path d="M142.5,125.9L147.7,125.9L145.1,130.5Z" fill="#1fbf1f"/><path d="M164.6,133.2L169.8,133.2L167.2,137.8Z" fill="#1fbf1f"/><path d="M186.8,143.3L192.0,143.3L189.4,147.9Z" fill="#1fbf1f"/><path d="M208.6,148.8L213.8,148.8L211.2,153.4Z" fill="#1fbf1f"/><path d="M230.5,169.1L235.7,169.1L233.1,173.7Z" fill="#1fbf1f"/><path d="M252.0,187.4L257.2,187.4L254.6,192.0Z" fill="#1fbf1f"/><path d="M291.0,210.4L296.2,210.4L293.6,215.0Z" fill="#1fbf1f"/><path d="M340.2,243.5L345.4,243.5L342.8,248.1Z" fill="#1fbf1f"/></g><g clip-path="url(#cm)"><polyline points="60.2,125.7 79.5,120.2 101.2,121.6 123.0,122.5 145.1,126.4 167.2,143.6 189.4,153.1 211.2,179.0 233.1,186.8 254.6,209.0 293.6,225.7 342.8,274.8" fill="none" stroke="#3f3f3f" stroke-width="1.1"/><line x1="60.2" y1="123.3" x2="60.2" y2="128.0" stroke="#3f3f3f" stroke-width="1"/><line x1="59.0" y1="123.3" x2="61.4" y2="123.3" stroke="#3f3f3f" stroke-width="1"/><line x1="59.0" y1="128.0" x2="61.4" y2="128.0" stroke="#3f3f3f" stroke-width="1"/><line x1="79.5" y1="118.1" x2="79.5" y2="122.3" stroke="#3f3f3f" stroke-width="1"/><line x1="78.3" y1="118.1" x2="80.7" y2="118.1" stroke="#3f3f3f" stroke-width="1"/><line x1="78.3" y1="122.3" x2="80.7" y2="122.3" stroke="#3f3f3f" stroke-width="1"/><line x1="101.2" y1="119.5" x2="101.2" y2="123.7" stroke="#3f3f3f" stroke-width="1"/><line x1="100.0" y1="119.5" x2="102.4" y2="119.5" stroke="#3f3f3f" stroke-width="1"/><line x1="100.0" y1="123.7" x2="102.4" y2="123.7" stroke="#3f3f3f" stroke-width="1"/><line x1="123.0" y1="120.4" x2="123.0" y2="124.6" stroke="#3f3f3f" stroke-width="1"/><line x1="121.8" y1="120.4" x2="124.2" y2="120.4" stroke="#3f3f3f" stroke-width="1"/><line x1="121.8" y1="124.6" x2="124.2" y2="124.6" stroke="#3f3f3f" stroke-width="1"/><line x1="145.1" y1="124.3" x2="145.1" y2="128.6" stroke="#3f3f3f" stroke-width="1"/><line x1="143.9" y1="124.3" x2="146.3" y2="124.3" stroke="#3f3f3f" stroke-width="1"/><line x1="143.9" y1="128.6" x2="146.3" y2="128.6" stroke="#3f3f3f" stroke-width="1"/><line x1="167.2" y1="141.3" x2="167.2" y2="146.0" stroke="#3f3f3f" stroke-width="1"/><line x1="166.0" y1="141.3" x2="168.4" y2="141.3" stroke="#3f3f3f" stroke-width="1"/><line x1="166.0" y1="146.0" x2="168.4" y2="146.0" stroke="#3f3f3f" stroke-width="1"/><line x1="189.4" y1="150.2" x2="189.4" y2="156.0" stroke="#3f3f3f" stroke-width="1"/><line x1="188.2" y1="150.2" x2="190.6" y2="150.2" stroke="#3f3f3f" stroke-width="1"/><line x1="188.2" y1="156.0" x2="190.6" y2="156.0" stroke="#3f3f3f" stroke-width="1"/><line x1="211.2" y1="175.0" x2="211.2" y2="183.1" stroke="#3f3f3f" stroke-width="1"/><line x1="210.0" y1="175.0" x2="212.4" y2="175.0" stroke="#3f3f3f" stroke-width="1"/><line x1="210.0" y1="183.1" x2="212.4" y2="183.1" stroke="#3f3f3f" stroke-width="1"/><line x1="233.1" y1="182.2" x2="233.1" y2="191.3" stroke="#3f3f3f" stroke-width="1"/><line x1="231.9" y1="182.2" x2="234.3" y2="182.2" stroke="#3f3f3f" stroke-width="1"/><line x1="231.9" y1="191.3" x2="234.3" y2="191.3" stroke="#3f3f3f" stroke-width="1"/><line x1="254.6" y1="202.8" x2="254.6" y2="215.1" stroke="#3f3f3f" stroke-width="1"/><line x1="253.4" y1="202.8" x2="255.8" y2="202.8" stroke="#3f3f3f" stroke-width="1"/><line x1="253.4" y1="215.1" x2="255.8" y2="215.1" stroke="#3f3f3f" stroke-width="1"/><line x1="293.6" y1="220.9" x2="293.6" y2="230.5" stroke="#3f3f3f" stroke-width="1"/><line x1="292.4" y1="220.9" x2="294.8" y2="220.9" stroke="#3f3f3f" stroke-width="1"/><line x1="292.4" y1="230.5" x2="294.8" y2="230.5" stroke="#3f3f3f" stroke-width="1"/><line x1="342.8" y1="265.5" x2="342.8" y2="284.2" stroke="#3f3f3f" stroke-width="1"/><line x1="341.6" y1="265.5" x2="344.0" y2="265.5" stroke="#3f3f3f" stroke-width="1"/><line x1="341.6" y1="284.2" x2="344.0" y2="284.2" stroke="#3f3f3f" stroke-width="1"/><circle cx="60.2" cy="125.7" r="2.3" fill="none" stroke="#3f3f3f" stroke-width="1.1"/><circle cx="79.5" cy="120.2" r="2.3" fill="none" stroke="#3f3f3f" stroke-width="1.1"/><circle cx="101.2" cy="121.6" r="2.3" fill="none" stroke="#3f3f3f" stroke-width="1.1"/><circle cx="123.0" cy="122.5" r="2.3" fill="none" stroke="#3f3f3f" stroke-width="1.1"/><circle cx="145.1" cy="126.4" r="2.3" fill="none" stroke="#3f3f3f" stroke-width="1.1"/><circle cx="167.2" cy="143.6" r="2.3" fill="none" stroke="#3f3f3f" stroke-width="1.1"/><circle cx="189.4" cy="153.1" r="2.3" fill="none" stroke="#3f3f3f" stroke-width="1.1"/><circle cx="211.2" cy="179.0" r="2.3" fill="none" stroke="#3f3f3f" stroke-width="1.1"/><circle cx="233.1" cy="186.8" r="2.3" fill="none" stroke="#3f3f3f" stroke-width="1.1"/><circle cx="254.6" cy="209.0" r="2.3" fill="none" stroke="#3f3f3f" stroke-width="1.1"/><circle cx="293.6" cy="225.7" r="2.3" fill="none" stroke="#3f3f3f" stroke-width="1.1"/><circle cx="342.8" cy="274.8" r="2.3" fill="none" stroke="#3f3f3f" stroke-width="1.1"/></g><path d="M45.7,477.8L45.7,17.55L371.2,17.55L371.2,477.8" fill="none" stroke="#000" stroke-width="1.3"/><line x1="45.1" y1="477.8" x2="371.9" y2="477.8" stroke="#000" stroke-width="1.7"/><line x1="45.7" y1="317.4" x2="371.2" y2="317.4" stroke="#000" stroke-width="1.1"/><path d="M51.9,17.6L51.9,25.9M51.9,317.4L51.9,309.1M51.9,317.4L51.9,322.1M51.9,477.8L51.9,473.1M80.7,17.6L80.7,21.8M80.7,317.4L80.7,313.2M80.7,317.4L80.7,319.8M80.7,477.8L80.7,475.4M109.5,17.6L109.5,21.8M109.5,317.4L109.5,313.2M109.5,317.4L109.5,319.8M109.5,477.8L109.5,475.4M138.3,17.6L138.3,21.8M138.3,317.4L138.3,313.2M138.3,317.4L138.3,319.8M138.3,477.8L138.3,475.4M167.1,17.6L167.1,25.9M167.1,317.4L167.1,309.1M167.1,317.4L167.1,322.1M167.1,477.8L167.1,473.1M195.9,17.6L195.9,21.8M195.9,317.4L195.9,313.2M195.9,317.4L195.9,319.8M195.9,477.8L195.9,475.4M224.7,17.6L224.7,21.8M224.7,317.4L224.7,313.2M224.7,317.4L224.7,319.8M224.7,477.8L224.7,475.4M253.5,17.6L253.5,21.8M253.5,317.4L253.5,313.2M253.5,317.4L253.5,319.8M253.5,477.8L253.5,475.4M282.3,17.6L282.3,25.9M282.3,317.4L282.3,309.1M282.3,317.4L282.3,322.1M282.3,477.8L282.3,473.1M311.1,17.6L311.1,21.8M311.1,317.4L311.1,313.2M311.1,317.4L311.1,319.8M311.1,477.8L311.1,475.4M339.9,17.6L339.9,21.8M339.9,317.4L339.9,313.2M339.9,317.4L339.9,319.8M339.9,477.8L339.9,475.4M368.7,17.6L368.7,21.8M368.7,317.4L368.7,313.2M368.7,317.4L368.7,319.8M368.7,477.8L368.7,475.4M45.7,305.1L51.5,305.1M371.2,305.1L365.4,305.1M45.7,294.4L51.5,294.4M371.2,294.4L365.4,294.4M45.7,286.2L51.5,286.2M371.2,286.2L365.4,286.2M45.7,279.4L51.5,279.4M371.2,279.4L365.4,279.4M45.7,273.7L51.5,273.7M371.2,273.7L365.4,273.7M45.7,268.8L51.5,268.8M371.2,268.8L365.4,268.8M45.7,264.4L51.5,264.4M371.2,264.4L365.4,264.4M45.7,260.5L57.2,260.5M371.2,260.5L359.7,260.5M45.7,234.8L51.5,234.8M371.2,234.8L365.4,234.8M45.7,219.8L51.5,219.8M371.2,219.8L365.4,219.8M45.7,209.1L51.5,209.1M371.2,209.1L365.4,209.1M45.7,200.9L51.5,200.9M371.2,200.9L365.4,200.9M45.7,194.1L51.5,194.1M371.2,194.1L365.4,194.1M45.7,188.4L51.5,188.4M371.2,188.4L365.4,188.4M45.7,183.5L51.5,183.5M371.2,183.5L365.4,183.5M45.7,179.1L51.5,179.1M371.2,179.1L365.4,179.1M45.7,175.2L57.2,175.2M371.2,175.2L359.7,175.2M45.7,149.5L51.5,149.5M371.2,149.5L365.4,149.5M45.7,134.5L51.5,134.5M371.2,134.5L365.4,134.5M45.7,123.8L51.5,123.8M371.2,123.8L365.4,123.8M45.7,115.6L51.5,115.6M371.2,115.6L365.4,115.6M45.7,108.8L51.5,108.8M371.2,108.8L365.4,108.8M45.7,103.1L51.5,103.1M371.2,103.1L365.4,103.1M45.7,98.2L51.5,98.2M371.2,98.2L365.4,98.2M45.7,93.8L51.5,93.8M371.2,93.8L365.4,93.8M45.7,89.9L57.2,89.9M371.2,89.9L359.7,89.9M45.7,64.2L51.5,64.2M371.2,64.2L365.4,64.2M45.7,49.2L51.5,49.2M371.2,49.2L365.4,49.2M45.7,38.5L51.5,38.5M371.2,38.5L365.4,38.5M45.7,30.3L51.5,30.3M371.2,30.3L365.4,30.3M45.7,23.5L51.5,23.5M371.2,23.5L365.4,23.5M45.7,17.8L51.5,17.8M371.2,17.8L365.4,17.8M45.7,458.2L53.1,458.2M371.2,458.2L363.8,458.2M45.7,442.3L50.9,442.3M371.2,442.3L366.0,442.3M45.7,428.8L50.9,428.8M371.2,428.8L366.0,428.8M45.7,417.1L50.9,417.1M371.2,417.1L366.0,417.1M45.7,406.8L50.9,406.8M371.2,406.8L366.0,406.8M45.7,397.6L53.1,397.6M371.2,397.6L363.8,397.6M45.7,389.3L50.9,389.3M371.2,389.3L366.0,389.3M45.7,381.7L50.9,381.7M371.2,381.7L366.0,381.7M45.7,374.7L50.9,374.7M371.2,374.7L366.0,374.7M45.7,368.2L50.9,368.2M371.2,368.2L366.0,368.2M45.7,362.2L50.9,362.2M371.2,362.2L366.0,362.2M45.7,356.5L50.9,356.5M371.2,356.5L366.0,356.5M45.7,351.2L50.9,351.2M371.2,351.2L366.0,351.2M45.7,346.2L50.9,346.2M371.2,346.2L366.0,346.2M45.7,341.5L50.9,341.5M371.2,341.5L366.0,341.5M45.7,337.0L53.1,337.0M371.2,337.0L363.8,337.0M45.7,332.7L50.9,332.7M371.2,332.7L366.0,332.7M45.7,328.7L50.9,328.7M371.2,328.7L366.0,328.7M45.7,324.8L50.9,324.8M371.2,324.8L366.0,324.8M45.7,321.1L50.9,321.1M371.2,321.1L366.0,321.1" stroke="#000" stroke-width="1.15" fill="none"/><text x="51.5" y="13.8" font-size="12" text-anchor="start" fill="#000">13000 GeV pp</text><text x="365.5" y="13.8" font-size="12" text-anchor="end" fill="#000">Z+Jet</text><text x="82.85" y="41.7" font-size="12" textLength="51.2" lengthAdjust="spacingAndGlyphs">Transmin</text><text x="137.9" y="41.7" font-size="12">region, 60 &lt; p</text><text x="209.6" y="36.6" font-size="8">Z</text><text x="209.6" y="49.1" font-size="8">T</text><text x="216.8" y="41.7" font-size="12">&lt; 80 [GeV], low thrust</text><text x="39.8" y="93.8" font-size="11.5" text-anchor="end" fill="#000">1</text><text x="32.6" y="180.6" font-size="11.5" text-anchor="end">10</text><text x="32" y="175.8" font-size="7.5">−1</text><text x="30.4" y="265.8" font-size="11.5" text-anchor="end">10</text><text x="30.3" y="261" font-size="7.5">−2</text><text x="38.6" y="341.0" font-size="11.5" text-anchor="end" fill="#000">2</text><text x="373.6" y="341.0" font-size="11.5" text-anchor="start" fill="#000">2</text><text x="38.6" y="401.6" font-size="11.5" text-anchor="end" fill="#000">1</text><text x="373.6" y="401.6" font-size="11.5" text-anchor="start" fill="#000">1</text><text x="38.6" y="462.2" font-size="11.5" text-anchor="end" fill="#000">0.5</text><text x="373.6" y="462.2" font-size="11.5" text-anchor="start" fill="#000">0.5</text><text x="51.7" y="489" font-size="11.5" text-anchor="middle" fill="#000">0</text><text x="166.9" y="489" font-size="11.5" text-anchor="middle" fill="#000">2</text><text x="282.1" y="489" font-size="11.5" text-anchor="middle" fill="#000">4</text><path d="M273.30,485.80L286.90,485.80L287.90,489.40L287.30,489.40L286.10,487.30L285.10,487.10L277.10,487.10L281.90,495.60L275.50,503.30L285.30,503.30L286.60,502.40L288.10,500.80L288.70,500.80L287.70,505.40L273.30,505.40L273.30,504.80L279.90,496.00L273.30,486.70Z" fill="#000"/><text x="291.9" y="499.6" font-size="12">p</text><text x="299.5" y="510.7" font-size="8">T</text><text x="372" y="500" font-size="12" text-anchor="end">/dη dϕ [GeV]</text><g transform="translate(13.7,183.7) rotate(-90)" font-size="12"><text x="-0.5" y="0">1/N</text><text x="18.2" y="3.6" font-size="9" textLength="7.2" lengthAdjust="spacingAndGlyphs">ev</text><text x="28.9" y="0">dN</text><text x="44.2" y="3.6" font-size="9" textLength="6.6" lengthAdjust="spacingAndGlyphs">ev</text><text x="51.2" y="0">/d</text><path d="M62.40,-12.10L74.82,-12.10L75.73,-8.90L75.19,-8.90L74.09,-10.77L73.18,-10.95L65.87,-10.95L70.25,-3.40L64.41,3.44L73.36,3.44L74.55,2.64L75.92,1.22L76.47,1.22L75.55,5.30L62.40,5.30L62.40,4.77L68.43,-3.05L62.40,-11.30Z" fill="#000"/><text x="80.7" y="0">p</text><text x="86.8" y="10.3" font-size="8">T</text><text x="91.4" y="0">/dη</text><text x="111.6" y="0">dϕ</text><text x="131.8" y="0">[GeV]</text><text x="163" y="-6.8" font-size="8">1</text></g><g transform="translate(19.4,426.9) rotate(-90)"><text x="0" y="0" font-size="9.7" textLength="59.8" lengthAdjust="spacingAndGlyphs">Ratio to ATLAS</text></g><g transform="translate(379.0,127.4) rotate(-90)"><text x="0" y="0" font-size="9.4" fill="#808080">Rivet 4.1.0, ≥ 600k events</text></g><g transform="translate(380.0,313.9) rotate(-90)"><text x="0" y="0" font-size="9.4" fill="#808080">mcplots.cern.ch [arXiv:2401.10621]</text></g><text x="163.2" y="301.6" font-size="8" text-anchor="start" fill="#a0a0a0">(ATLAS_2019_I1736531)</text><rect x="73.6" y="221.2" width="5.6" height="5.6" fill="#000"/><text x="94.5" y="227.1" font-size="9.4" text-anchor="start" fill="#000">ATLAS</text><line x1="64.2" y1="237.1" x2="87.9" y2="237.1" stroke="#22cc8a" stroke-width="1.1" stroke-dasharray="2.5,2"/><circle cx="76.4" cy="237.1" r="2.25" fill="#22cc8a"/><text x="94.5" y="240.0" font-size="9.4" text-anchor="start" fill="#000">Pythia 6.423 d6t</text><line x1="64.2" y1="250.0" x2="87.9" y2="250.0" stroke="#ff7f2a" stroke-width="1.1" stroke-dasharray="3.5,2,1,2"/><rect x="74.3" y="247.9" width="4.2" height="4.2" fill="#ff7f2a"/><text x="94.5" y="252.9" font-size="9.4" text-anchor="start" fill="#000">Pythia 6.423 default</text><line x1="64.2" y1="262.9" x2="87.9" y2="262.9" stroke="#1fbf1f" stroke-width="1.1" stroke-dasharray="2.2,1.8"/><path d="M73.8,260.9L79.0,260.9L76.4,265.5Z" fill="#1fbf1f"/><text x="94.5" y="265.8" font-size="9.4" text-anchor="start" fill="#000">Pythia 6.423 dw</text><line x1="64.2" y1="275.8" x2="87.9" y2="275.8" stroke="#3f3f3f" stroke-width="1.1"/><circle cx="76.4" cy="275.8" r="2.3" fill="none" stroke="#3f3f3f" stroke-width="1.1"/><text x="94.5" y="278.7" font-size="9.4" text-anchor="start" fill="#000">Pythia 6.423 p0</text></svg></body></html>
